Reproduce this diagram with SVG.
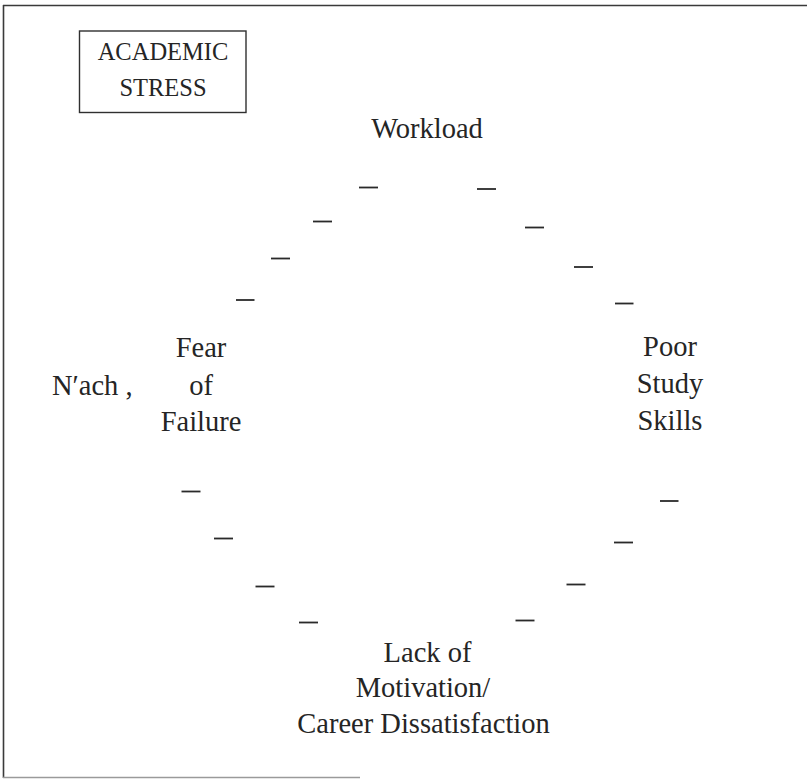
<svg xmlns="http://www.w3.org/2000/svg" width="807" height="779" viewBox="0 0 807 779">
<style>
.t{font-family:"Liberation Serif","Times New Roman",serif;fill:#252525;text-anchor:middle}
.big{font-size:28.5px}
.box{font-size:24.5px}
.dash{stroke:#2a2a2a;stroke-width:1.8;fill:none}
.frame{stroke:#3a3a3a;stroke-width:1.6;fill:none}
</style>
<rect width="807" height="779" fill="#fff"/>
<g id="frame">
<line class="frame" x1="3" y1="5.5" x2="807" y2="5.5"/>
<line class="frame" x1="3.5" y1="5" x2="3.5" y2="778"/>
<line x1="3" y1="777.5" x2="360" y2="777.5" stroke="#9a9a9a" stroke-width="1.5"/>
</g>
<g id="academic-stress">
<rect x="79.5" y="31" width="166.5" height="81.5" fill="none" stroke="#2f2f2f" stroke-width="1.4"/>
<text class="t box" x="163" y="60">ACADEMIC</text>
<text class="t box" x="163" y="96">STRESS</text>
</g>
<g id="workload">
<text class="t big" x="427" y="138">Workload</text>
</g>
<g id="poor-study-skills">
<text class="t big" x="670" y="356">Poor</text>
<text class="t big" x="670" y="393">Study</text>
<text class="t big" x="670" y="429.5">Skills</text>
</g>
<g id="lack-of-motivation">
<text class="t big" x="427.5" y="662">Lack of</text>
<text class="t big" x="423" y="697">Motivation/</text>
<text class="t big" x="423.5" y="733">Career Dissatisfaction</text>
</g>
<g id="fear-of-failure">
<text class="t big" x="201" y="357">Fear</text>
<text class="t big" x="201" y="395">of</text>
<text class="t big" x="201" y="431">Failure</text>
</g>
<g id="nach">
<text class="t big" x="52" y="395" style="text-anchor:start">N′ach ,</text>
</g>
<g id="connectors">
<line class="dash" x1="359" y1="187.5" x2="378" y2="187.5"/>
<line class="dash" x1="313" y1="221.5" x2="332" y2="221.5"/>
<line class="dash" x1="271" y1="258.5" x2="290" y2="258.5"/>
<line class="dash" x1="236" y1="300" x2="254.5" y2="300"/>
<line class="dash" x1="477" y1="189" x2="496" y2="189"/>
<line class="dash" x1="525" y1="227.5" x2="544" y2="227.5"/>
<line class="dash" x1="574" y1="267" x2="593" y2="267"/>
<line class="dash" x1="615" y1="303.5" x2="633.5" y2="303.5"/>
<line class="dash" x1="181.5" y1="491.5" x2="200.5" y2="491.5"/>
<line class="dash" x1="214" y1="538.5" x2="233" y2="538.5"/>
<line class="dash" x1="255.5" y1="586.5" x2="274.5" y2="586.5"/>
<line class="dash" x1="299" y1="622.5" x2="318" y2="622.5"/>
<line class="dash" x1="660" y1="501" x2="678.5" y2="501"/>
<line class="dash" x1="614" y1="542.5" x2="633" y2="542.5"/>
<line class="dash" x1="566.5" y1="584.5" x2="585.5" y2="584.5"/>
<line class="dash" x1="515.5" y1="620.5" x2="534.5" y2="620.5"/>
</g>
</svg>
